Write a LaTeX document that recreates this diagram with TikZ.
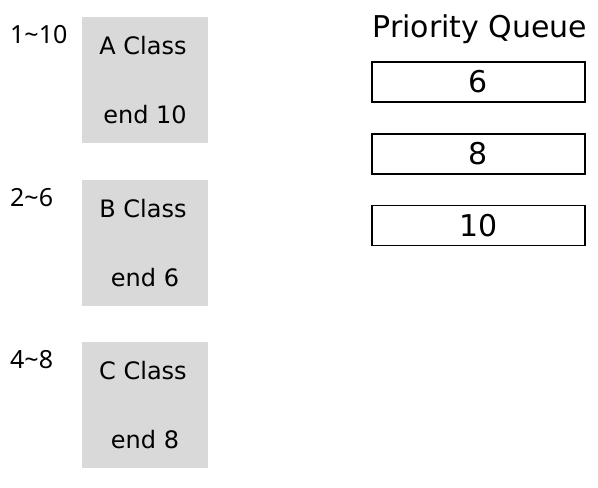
\documentclass[tikz,border=0pt]{standalone}
\usepackage{fontspec}
\setmainfont{DejaVu Sans}
\newfontfamily\rangefont{Noto Sans}
\definecolor{boxgray}{HTML}{D9D9D9}
\begin{document}
\begin{tikzpicture}[x=1pt,y=-1pt,
  classbox/.style={fill=boxgray,draw=none,minimum width=126pt,minimum height=126pt,inner sep=0pt},
  qbox/.style={draw=black,line width=1.8pt,minimum width=213pt,minimum height=40pt,inner sep=0pt,font=\fontsize{30}{36}\selectfont},
  lbl/.style={anchor=base west,inner sep=0pt,font=\rangefont\fontsize{25}{28}\selectfont},
  ctext/.style={anchor=base,inner sep=0pt,font=\fontsize{24}{28}\selectfont}]
\useasboundingbox (0,0) rectangle (598,488);
% class boxes
\node[classbox] (A) at (145,80) {};
\node[classbox] (B) at (145,242.5) {};
\node[classbox] (C) at (145,405) {};
% range labels
\node[lbl] (rA) at (10,43) {1\char"007E 10};
\node[lbl] (rB) at (10,206) {2\char"007E 6};
\node[lbl] (rC) at (10,368) {4\char"007E 8};
% box texts
\node[ctext] (An) at (143,54) {A Class};
\node[ctext] (Ae) at (145,123) {end 10};
\node[ctext] (Bn) at (143,217) {B Class};
\node[ctext] (Be) at (145,286) {end 6};
\node[ctext] (Cn) at (143,379) {C Class};
\node[ctext] (Ce) at (145,448) {end 8};
% priority queue
\node[anchor=base,inner sep=0pt,font=\fontsize{30}{36}\selectfont] (pq) at (480,37) {Priority Queue};
\node[qbox] (q1) at (478.5,82) {6};
\node[qbox] (q2) at (478.5,154) {8};
\node[qbox] (q3) at (478.5,225.5) {10};
\end{tikzpicture}
\end{document}
